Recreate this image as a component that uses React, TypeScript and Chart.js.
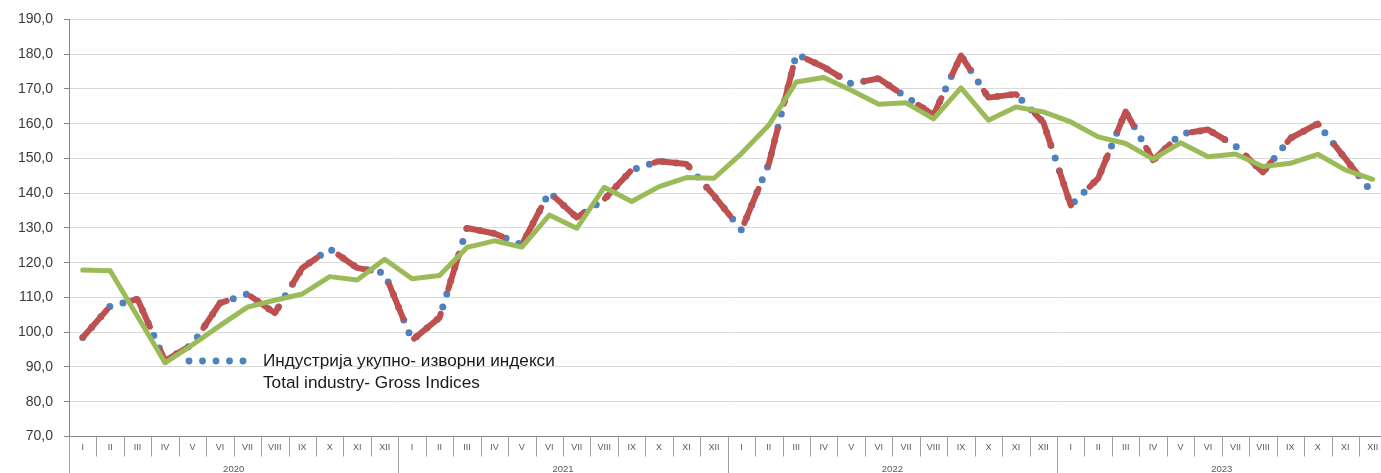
import React, { useEffect, useRef } from "react";
import { Chart, registerables } from "chart.js";

Chart.register(...registerables);

const months = ["I", "II", "III", "IV", "V", "VI", "VII", "VIII", "IX", "X", "XI", "XII"];
const years = ["2020", "2021", "2022", "2023"];

const gross2020 = [98.5, 107.5, 109.5, 91.8, 96.5, 108.4, 111.0, 105.5, 118.5, 124.0, 118.5, 117.0];
const gross2021 = [97.7, 104.2, 130.0, 128.4, 125.2, 140.3, 133.0, 138.2, 146.7, 149.2, 148.4, 139.3];
const gross2022 = [129.4, 148.5, 180.0, 176.3, 171.5, 173.0, 167.7, 162.5, 179.6, 167.5, 168.5, 160.4];
const gross2023 = [136.5, 144.3, 163.5, 149.5, 157.0, 158.3, 153.6, 146.0, 155.8, 160.0, 150.0, 140.0];

const trend2020 = [117.9, 117.7, 104.5, 91.2, 96.4, 101.9, 107.2, 109.2, 111.0, 116.0, 115.0, 121.0];
const trend2021 = [115.4, 116.3, 124.4, 126.3, 124.5, 133.7, 129.9, 141.7, 137.6, 141.9, 144.5, 144.3];
const trend2022 = [151.4, 159.6, 172.0, 173.3, 169.6, 165.6, 166.0, 161.4, 170.3, 161.0, 164.8, 163.4];
const trend2023 = [160.5, 156.2, 154.3, 149.8, 154.5, 150.5, 151.3, 147.7, 148.6, 151.2, 146.7, 144.0];

const legendLines = ["Индустрија укупно- изворни индекси", "Total industry- Gross Indices"];

const BLUE = "#4F81BD";
const RED = "#C0504D";
const GREEN = "#9BBB59";

const categories = years.flatMap(() => months);
const grossIndex = [...gross2020, ...gross2021, ...gross2022, ...gross2023];
const trendIndex = [...trend2020, ...trend2021, ...trend2022, ...trend2023];

const separatorsPlugin = {
  id: "separators",
  afterDraw(chart: any) {
    const { ctx, chartArea } = chart;
    const x = chart.scales.x;
    const n = categories.length;
    const w = x.width / n;
    ctx.save();
    ctx.strokeStyle = "#a0a0a0";
    ctx.lineWidth = 1;
    for (let i = 0; i <= n; i++) {
      const px = Math.round(x.left + i * w) + 0.5;
      const isYear = i % 12 === 0;
      ctx.beginPath();
      ctx.moveTo(px, chartArea.bottom);
      ctx.lineTo(px, isYear ? chart.height : chartArea.bottom + 20);
      ctx.stroke();
    }
    ctx.fillStyle = "#595959";
    ctx.font = '9.5px "Liberation Sans"';
    ctx.textAlign = "center";
    ctx.textBaseline = "middle";
    years.forEach((yr, j) => {
      const a = x.getPixelForValue(j * 12);
      const b = x.getPixelForValue(j * 12 + 11);
      ctx.fillText(yr, (a + b) / 2, 469.5);
    });
    ctx.restore();
  },
};

const legendPlugin = {
  id: "customLegend",
  afterDraw(chart: any) {
    const { ctx } = chart;
    ctx.save();
    ctx.fillStyle = BLUE;
    for (let k = 0; k < 5; k++) {
      ctx.beginPath();
      ctx.arc(189 + k * 13.5, 361, 3.4, 0, Math.PI * 2);
      ctx.fill();
    }
    ctx.fillStyle = "#1a1a1a";
    ctx.font = '17.2px "Liberation Sans"';
    ctx.textAlign = "left";
    ctx.textBaseline = "middle";
    ctx.fillText(legendLines[0], 263, 361.5);
    ctx.fillText(legendLines[1], 263, 383.5);
    ctx.restore();
  },
};

export default function App() {
  const canvasRef = useRef<HTMLCanvasElement | null>(null);

  useEffect(() => {
    if (!canvasRef.current) return;
    const chart = new Chart(canvasRef.current, {
      type: "line",
      data: {
        labels: categories,
        datasets: [
          {
            label: "trend",
            data: trendIndex,
            borderColor: GREEN,
            borderWidth: 5,
            borderJoinStyle: "round",
            borderCapStyle: "round",
            pointRadius: 0,
            tension: 0,
          },
          {
            label: "gross-dashed",
            data: grossIndex,
            borderColor: RED,
            borderWidth: 6,
            borderDash: [37, 26],
            borderJoinStyle: "round",
            borderCapStyle: "round",
            pointRadius: 0,
            tension: 0,
          },
          {
            label: legendLines.join(" / "),
            data: grossIndex,
            borderColor: BLUE,
            borderWidth: 7,
            borderDash: [0, 13.7],
            borderJoinStyle: "round",
            borderCapStyle: "round",
            pointRadius: 0,
            tension: 0,
          },
        ],
      },
      options: {
        responsive: false,
        animation: false,
        devicePixelRatio: 1,
        layout: { padding: { left: 0, right: 5.6, top: 19, bottom: 0 } },
        plugins: { legend: { display: false }, tooltip: { enabled: false } },
        scales: {
          x: {
            type: "category",
            offset: true,
            grid: { display: false },
            border: { display: true, color: "#868686", width: 1 },
            ticks: {
              autoSkip: false,
              maxRotation: 0,
              minRotation: 0,
              padding: -2,
              color: "#595959",
              font: { family: "Liberation Sans", size: 9 },
            },
            afterFit: (scale: any) => {
              scale.height = 36.5;
            },
          },
          y: {
            min: 70,
            max: 190,
            ticks: {
              stepSize: 10,
              padding: 11,
              color: "#3a3a3a",
              font: { family: "Liberation Sans", size: 14 },
              callback: (v: any) => Number(v).toFixed(1).replace(".", ","),
            },
            grid: {
              color: "#d9d9d9",
              lineWidth: 1,
              tickColor: "#868686",
              tickLength: 5,
              drawTicks: true,
            },
            border: { display: true, color: "#868686", width: 1 },
            afterFit: (scale: any) => {
              scale.width = 69;
            },
          },
        },
      },
      plugins: [separatorsPlugin, legendPlugin],
    });
    return () => chart.destroy();
  }, []);

  return (
    <div
      style={{
        position: "fixed",
        left: 0,
        top: 0,
        width: 1381,
        height: 473,
        overflow: "hidden",
        background: "#ffffff",
      }}
    >
      <canvas ref={canvasRef} width={1392} height={473} style={{ display: "block" }} />
    </div>
  );
}
